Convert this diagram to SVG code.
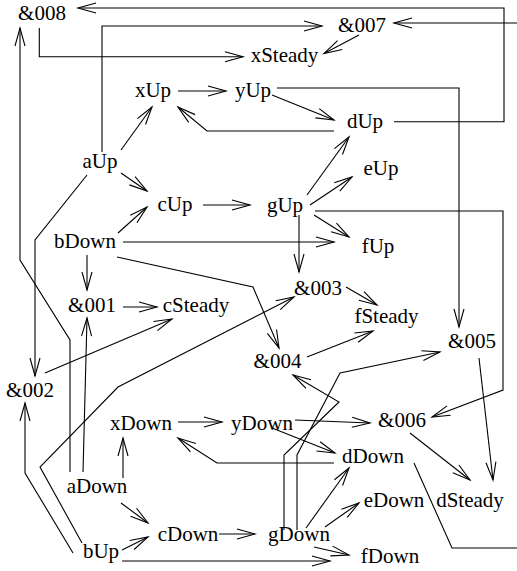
<svg xmlns="http://www.w3.org/2000/svg" width="517" height="571" viewBox="0 0 517 571">
<style>
text{font-family:"Liberation Serif","Times New Roman",serif;font-size:21px;fill:#000;text-anchor:middle}
#connectors path{fill:none;stroke:#000;stroke-width:1.1;marker-end:url(#a)}
</style>
<defs>
<marker id="a" markerUnits="userSpaceOnUse" orient="auto" overflow="visible" markerWidth="1" markerHeight="1" refX="0" refY="0">
<path d="M-18,-5 L0,0 L-18,5" fill="none" stroke="#000" stroke-width="1.1"/>
</marker>
</defs>
<rect width="517" height="571" fill="#fff"/>
<g id="connectors">
<path d="M394,121.7 H504 V8 H78"/>
<path d="M414,463 L452,548 H530 V23 H394"/>
<path d="M39.3,28 V56.7 H243"/>
<path d="M102,152 V26 H322"/>
<path d="M359,35 L324,53.5"/>
<path d="M178,91 H226"/>
<path d="M272,95 L334,120"/>
<path d="M334,131 H207 L178,107"/>
<path d="M121,150 L152,107"/>
<path d="M121,173 L147,191"/>
<path d="M87,175 L35,240 V376"/>
<path d="M118,233 L147,207"/>
<path d="M203,205 H250"/>
<path d="M123,242 H334"/>
<path d="M307,195 L349,137"/>
<path d="M310,205 L352,177"/>
<path d="M314,215 L349,237"/>
<path d="M299,215 V272"/>
<path d="M277,88 H459 V327"/>
<path d="M315,211 H503 V390 L432,417"/>
<path d="M87,255 V290"/>
<path d="M117,257 L253,287 L279,348"/>
<path d="M123,307 H157"/>
<path d="M45,373 L172,319"/>
<path d="M83,472 L87,318"/>
<path d="M70,472 V340 L20,260 V28"/>
<path d="M73,553 L25,473 V403"/>
<path d="M82,543 L40,467 L118,387 L294,297"/>
<path d="M178,422 H222"/>
<path d="M123,478 V438"/>
<path d="M334,463 H217 L178,438"/>
<path d="M121,503 L148,523"/>
<path d="M122,550 L148,537"/>
<path d="M219,534 H255"/>
<path d="M122,561 H330"/>
<path d="M314,547 L349,555"/>
<path d="M325,527 L359,503"/>
<path d="M306,528 L349,468"/>
<path d="M272,428 L335,453"/>
<path d="M295,420 L370,423"/>
<path d="M410,433 L470,480"/>
<path d="M479,358 L493,480"/>
<path d="M284,530 V455 L339,402 L293,375"/>
<path d="M297,530 V455 L340,373 L440,352"/>
<path d="M307,357 L373,331"/>
<path d="M346,287 L377,305"/>
</g>
<g id="n008"><text x="42" y="20">&amp;008</text></g>
<g id="n007"><text x="362" y="32">&amp;007</text></g>
<g id="xSteady"><text x="284.5" y="62">xSteady</text></g>
<g id="xUp"><text x="153" y="97">xUp</text></g>
<g id="yUp"><text x="253" y="97">yUp</text></g>
<g id="dUp"><text x="365" y="128">dUp</text></g>
<g id="aUp"><text x="100" y="168">aUp</text></g>
<g id="eUp"><text x="381" y="175">eUp</text></g>
<g id="cUp"><text x="175" y="211">cUp</text></g>
<g id="gUp"><text x="285" y="212">gUp</text></g>
<g id="bDown"><text x="85" y="248">bDown</text></g>
<g id="fUp"><text x="378" y="253">fUp</text></g>
<g id="n003"><text x="318" y="295">&amp;003</text></g>
<g id="n001"><text x="92" y="312">&amp;001</text></g>
<g id="cSteady"><text x="196" y="312">cSteady</text></g>
<g id="fSteady"><text x="386.5" y="323">fSteady</text></g>
<g id="n005"><text x="472" y="348">&amp;005</text></g>
<g id="n004"><text x="277.5" y="368">&amp;004</text></g>
<g id="n002"><text x="30" y="397">&amp;002</text></g>
<g id="n006"><text x="402" y="427">&amp;006</text></g>
<g id="xDown"><text x="141" y="430">xDown</text></g>
<g id="yDown"><text x="262" y="430">yDown</text></g>
<g id="dDown"><text x="373" y="463">dDown</text></g>
<g id="aDown"><text x="97" y="493">aDown</text></g>
<g id="eDown"><text x="394" y="507">eDown</text></g>
<g id="dSteady"><text x="470" y="507">dSteady</text></g>
<g id="cDown"><text x="188" y="541">cDown</text></g>
<g id="gDown"><text x="299" y="541">gDown</text></g>
<g id="bUp"><text x="101" y="558">bUp</text></g>
<g id="fDown"><text x="390" y="563">fDown</text></g>
</svg>
